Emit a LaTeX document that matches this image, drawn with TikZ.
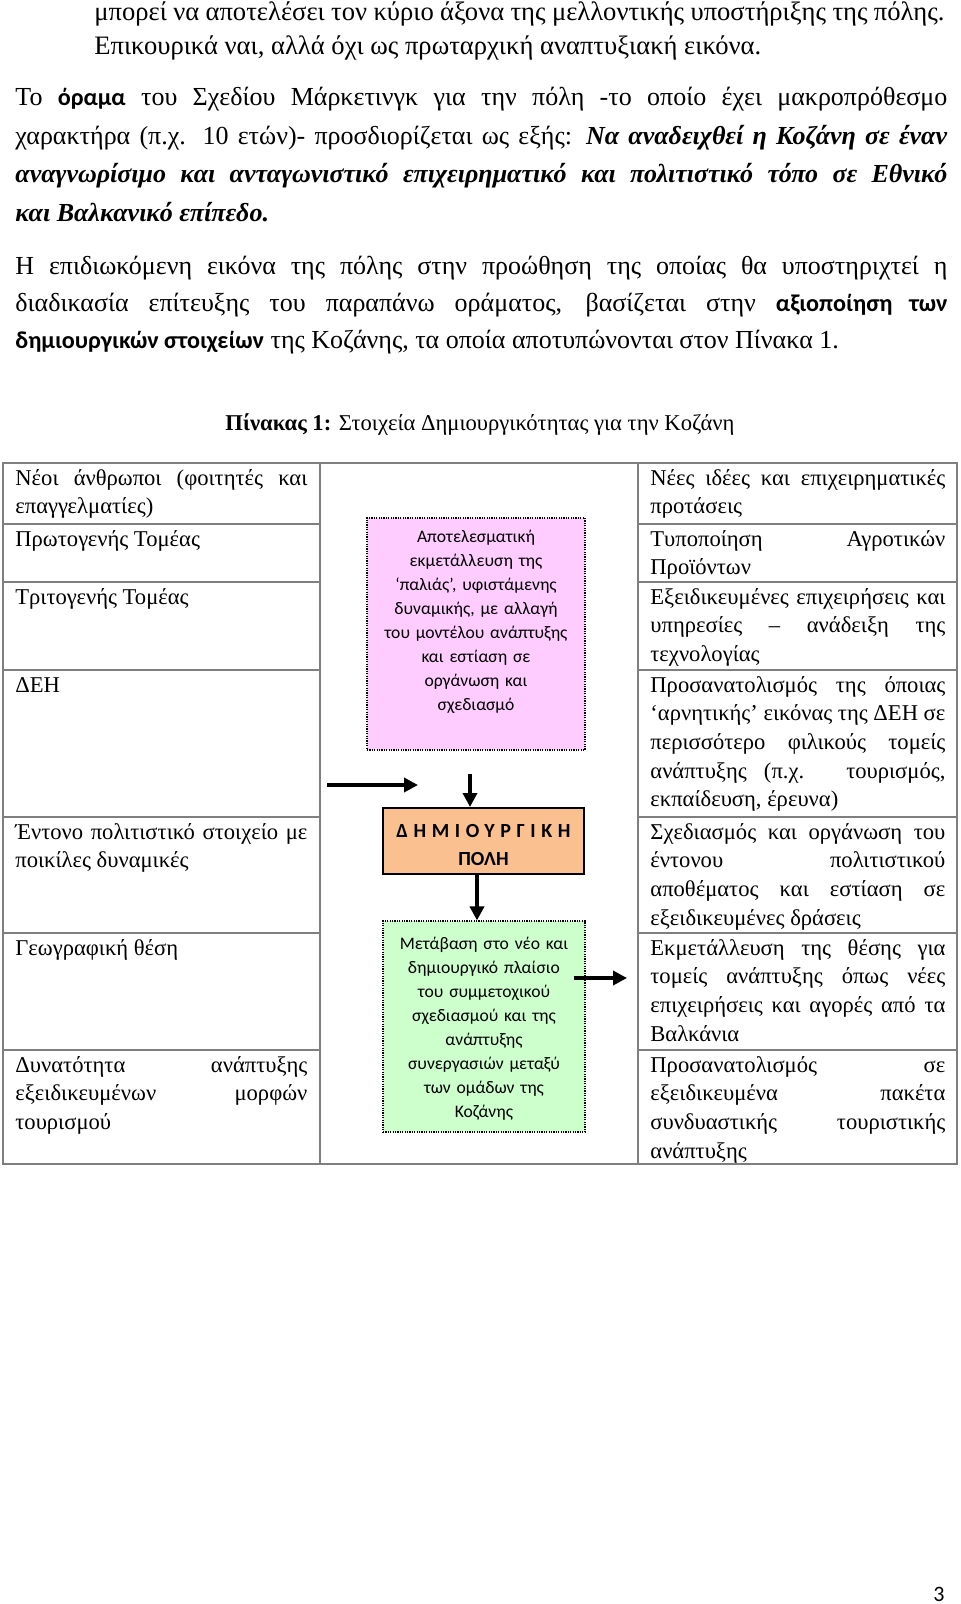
\documentclass[tikz,border=0pt]{standalone}
\usepackage{fontspec}
\setmainfont{Liberation Serif}
\newfontfamily\calibri{Carlito}
\newfontfamily\calibribody[Scale=0.93]{Carlito}
\newfontfamily\calibriwide[LetterSpace=28]{Carlito}
\usetikzlibrary{arrows.meta,positioning}

\definecolor{pinkfill}{HTML}{FFCCFF}
\definecolor{greenfill}{HTML}{CCFFCC}
\definecolor{orangefill}{HTML}{FAC090}
\definecolor{rulegrey}{HTML}{7F7F7F}

% one justified line, stretched to the full width
\newcommand{\jline}[1]{\makebox[\hsize][s]{#1}}
\newcommand{\boldsans}[1]{{\calibribody\bfseries #1}}

\begin{document}
\begin{tikzpicture}[
    x=0.5pt, y=-0.5pt,
    bodytext/.style={anchor=base west, inner sep=0pt, align=justify, font=\fontsize{13}{19.25}\selectfont},
    celltext/.style={anchor=base west, inner sep=0pt, align=justify, text width=146pt, font=\fontsize{11.3}{14.35}\selectfont},
    tablerule/.style={draw=rulegrey, line width=0.75pt},
    flowbox/.style={draw=black, line width=0.6pt, dash pattern=on 0.6pt off 0.6pt, inner sep=0pt},
    flowtext/.style={anchor=base, inner sep=0pt, align=center, text width=108pt, font=\calibri\fontsize{8.8}{12}\selectfont},
    bigarrow/.style={-{Triangle[width=7pt,length=7pt]}, line width=2pt}
  ]
  \fill[white] (0,0) rectangle (960,1604);
  \useasboundingbox (0,0) rectangle (960,1604);

  % text above the table
  \node[bodytext, text width=425pt, font=\fontsize{13.3}{17}\selectfont] (para1) at (94,21) {%
    \jline{μπορεί να αποτελέσει τον κύριο άξονα της μελλοντικής υποστήριξης της πόλης.}\\
    Επικουρικά ναι, αλλά όχι ως πρωταρχική αναπτυξιακή εικόνα.};
  \node[bodytext, text width=466pt] (para2) at (15,106) {%
    \jline{Το \boldsans{όραμα} του Σχεδίου Μάρκετινγκ για την πόλη -το οποίο έχει μακροπρόθεσμο}\\
    \jline{χαρακτήρα (π.χ. 10 ετών)- προσδιορίζεται ως εξής: \textbf{\textit{Να αναδειχθεί η Κοζάνη σε έναν}}}\\
    \jline{\textbf{\textit{αναγνωρίσιμο και ανταγωνιστικό επιχειρηματικό και πολιτιστικό τόπο σε Εθνικό}}}\\
    \textbf{\textit{και Βαλκανικό επίπεδο.}}};
  \node[bodytext, text width=466pt, font=\fontsize{13}{18.5}\selectfont] (para3) at (15,275) {%
    \jline{Η επιδιωκόμενη εικόνα της πόλης στην προώθηση της οποίας θα υποστηριχτεί η}\\
    \jline{διαδικασία επίτευξης του παραπάνω οράματος, βασίζεται στην \boldsans{αξιοποίηση των}}\\
    \boldsans{δημιουργικών στοιχείων} της Κοζάνης, τα οποία αποτυπώνονται στον Πίνακα 1.};

  \node[anchor=base, inner sep=0pt, font=\fontsize{11.3}{13}\selectfont] (caption) at (480,430)
    {\textbf{Πίνακας 1:} Στοιχεία Δημιουργικότητας για την Κοζάνη};

  % table
  \draw[tablerule] (3,463) rectangle (957,1164);
  \draw[tablerule] (320,463) -- (320,1164) (638,463) -- (638,1164);
  \foreach \y in {524,582,670,817,933,1050} {
    \draw[tablerule] (3,\y) -- (320,\y);
    \draw[tablerule] (638,\y) -- (957,\y);
  }

  % left column
  \node[celltext] (left1) at (15,485) {\jline{Νέοι άνθρωποι (φοιτητές και}\\ επαγγελματίες)};
  \node[celltext] (left2) at (15,546) {Πρωτογενής Τομέας};
  \node[celltext] (left3) at (15,604) {Τριτογενής Τομέας};
  \node[celltext] (left4) at (15,692) {ΔΕΗ};
  \node[celltext] (left5) at (15,839) {\jline{Έντονο πολιτιστικό στοιχείο με}\\ ποικίλες δυναμικές};
  \node[celltext] (left6) at (15,955) {Γεωγραφική θέση};
  \node[celltext] (left7) at (15,1072) {\jline{Δυνατότητα ανάπτυξης}\\ \jline{εξειδικευμένων μορφών}\\ τουρισμού};

  % right column
  \begin{scope}[celltext/.append style={text width=147.5pt}]
    \node[celltext] (right1) at (650,485) {\jline{Νέες ιδέες και επιχειρηματικές}\\ προτάσεις};
    \node[celltext] (right2) at (650,546) {\jline{Τυποποίηση Αγροτικών}\\ Προϊόντων};
    \node[celltext] (right3) at (650,604) {\jline{Εξειδικευμένες επιχειρήσεις και}\\ \jline{υπηρεσίες – ανάδειξη της}\\ τεχνολογίας};
    \node[celltext] (right4) at (650,692) {\jline{Προσανατολισμός της όποιας}\\ \jline{‘αρνητικής’ εικόνας της ΔΕΗ σε}\\ \jline{περισσότερο φιλικούς τομείς}\\ \jline{ανάπτυξης (π.χ. τουρισμός,}\\ εκπαίδευση, έρευνα)};
    \node[celltext] (right5) at (650,839) {\jline{Σχεδιασμός και οργάνωση του}\\ \jline{έντονου πολιτιστικού}\\ \jline{αποθέματος και εστίαση σε}\\ εξειδικευμένες δράσεις};
    \node[celltext] (right6) at (650,955) {\jline{Εκμετάλλευση της θέσης για}\\ \jline{τομείς ανάπτυξης όπως νέες}\\ \jline{επιχειρήσεις και αγορές από τα}\\ Βαλκάνια};
    \node[celltext] (right7) at (650,1072) {\jline{Προσανατολισμός σε}\\ \jline{εξειδικευμένα πακέτα}\\ \jline{συνδυαστικής τουριστικής}\\ ανάπτυξης};
  \end{scope}

  % middle column
  \node[flowbox, fill=pinkfill, minimum width=109pt, minimum height=116pt] (pink) at (476,634) {};
  \node[flowtext] (pinktext) at (476,542) {Αποτελεσματική\\ εκμετάλλευση της\\ ‘παλιάς’, υφιστάμενης\\ δυναμικής, με αλλαγή\\ του μοντέλου ανάπτυξης\\ και εστίαση σε\\ οργάνωση και\\ σχεδιασμό};

  \node[draw=black, line width=1pt, fill=orangefill, minimum width=100.5pt, minimum height=33pt] (city) at (483.5,841) {};
  \node[flowtext, text width=100pt, font=\calibri\bfseries\fontsize{10}{14}\selectfont] (citytext) at (483.5,837)
    {{\calibriwide\bfseries ΔΗΜΙΟΥΡΓΙΚΗ}\\ ΠΟΛΗ};

  \node[flowbox, fill=greenfill, minimum width=101pt, minimum height=105.5pt] (green) at (484,1026.5) {};
  \node[flowtext] (greentext) at (484,949) {Μετάβαση στο νέο και\\ δημιουργικό πλαίσιο\\ του συμμετοχικού\\ σχεδιασμού και της\\ ανάπτυξης\\ συνεργασιών μεταξύ\\ των ομάδων της\\ Κοζάνης};

  % arrows
  \coordinate (inleft) at (327,785);
  \coordinate (inright) at (418,785);
  \coordinate (downone) at (470,774);
  \coordinate (downtwo) at (477,874);
  \coordinate (outright) at (627,978);
  \draw[bigarrow] (inleft) -- (inright);
  \draw[bigarrow] (downone) -- (downone |- city.north);
  \draw[bigarrow] (city.south -| downtwo) -- (green.north -| downtwo);
  \draw[bigarrow] ([xshift=-6pt]green.east |- outright) -- (outright);

  \node[anchor=base, inner sep=0pt, font=\calibri\fontsize{11}{13}\selectfont] (pagenum) at (939,1601) {3};
\end{tikzpicture}
\end{document}
